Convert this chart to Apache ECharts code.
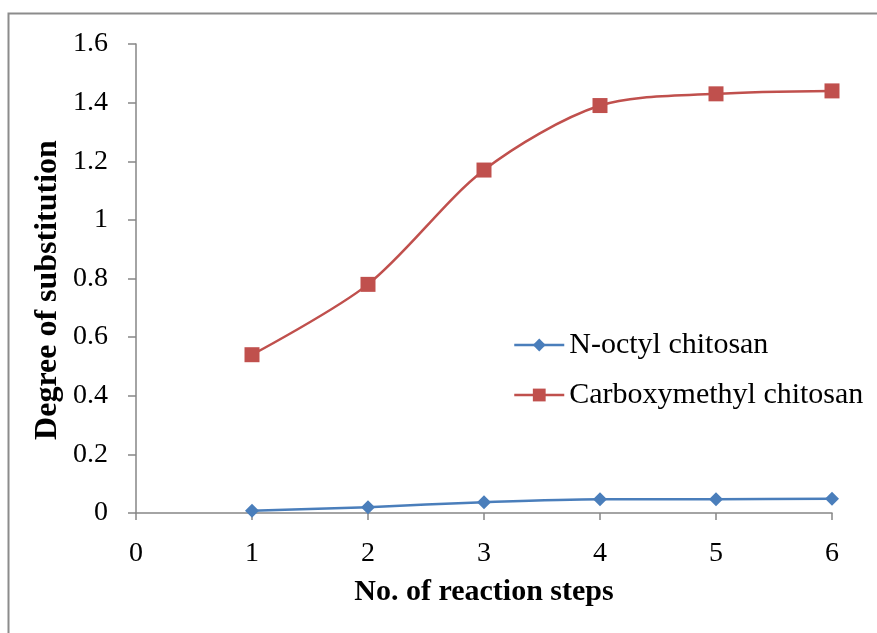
<!DOCTYPE html>
<html>
<head>
<meta charset="utf-8">
<script src="https://cdn.jsdelivr.net/npm/echarts@6/dist/echarts.min.js"></script>
<style>html,body{margin:0;padding:0;background:#fff}#c{width:877px;height:633px}</style>
</head>
<body>
<div id="c"></div>
<script>
const steps = [1, 2, 3, 4, 5, 6];
const nOctyl = [0.008, 0.02, 0.037, 0.047, 0.047, 0.049];
const carboxymethyl = [0.54, 0.78, 1.17, 1.39, 1.43, 1.44];
const seriesNames = ['N-octyl chitosan', 'Carboxymethyl chitosan'];
const xTitle = 'No. of reaction steps';
const yTitle = 'Degree of substitution';

const font = '"Liberation Serif", "Times New Roman", serif';
const chart = echarts.init(document.getElementById('c'));
const axisGray = '#868686';
chart.setOption({
  animation: false,
  backgroundColor: '#fff',
  graphic: [{
    type: 'rect', shape: {x: 8.5, y: 13.5, width: 900, height: 700},
    style: {fill: 'none', stroke: '#8c8c8c', lineWidth: 2}, silent: true, z: -1
  }, {
    type: 'text', x: 48, y: 290, rotation: Math.PI / 2,
    style: {text: yTitle, font: 'bold 32px ' + font, fill: '#000', align: 'center', verticalAlign: 'middle'},
    silent: true
  }],
  grid: {left: 136, right: 45, top: 44, bottom: 120},
  legend: {
    orient: 'vertical', left: 513, top: 330, padding: 0, itemGap: 20, itemWidth: 50, itemHeight: 16,
    textStyle: {fontFamily: font, fontSize: 30, color: '#000'},
    lineStyle: {width: 2.5},
    data: seriesNames
  },
  xAxis: {
    type: 'value', min: 0, max: 6, interval: 1,
    name: xTitle, nameLocation: 'middle', nameGap: 64,
    nameTextStyle: {fontFamily: font, fontSize: 30, fontWeight: 'bold', color: '#000'},
    axisLine: {onZero: false, lineStyle: {color: axisGray, width: 1.5}},
    axisTick: {show: true, length: 7, lineStyle: {color: axisGray, width: 1.5}},
    axisLabel: {fontFamily: font, fontSize: 28, color: '#000', margin: 27},
    splitLine: {show: false}
  },
  yAxis: {
    type: 'value', min: 0, max: 1.6, interval: 0.2,
    axisLine: {show: true, lineStyle: {color: axisGray, width: 1.5}},
    axisTick: {show: true, length: 8, lineStyle: {color: axisGray, width: 1.5}},
    axisLabel: {fontFamily: font, fontSize: 28, color: '#000', margin: 28,
      formatter: v => String(Math.round(v * 10) / 10)},
    splitLine: {show: false}
  },
  series: [
    {
      name: seriesNames[0], type: 'line', smooth: 0.3,
      data: steps.map((s, i) => [s, nOctyl[i]]),
      symbol: 'diamond', symbolSize: 14,
      itemStyle: {color: '#4a7ebb'},
      lineStyle: {color: '#4a7ebb', width: 2.5}
    },
    {
      name: seriesNames[1], type: 'line', smooth: 0.3,
      data: steps.map((s, i) => [s, carboxymethyl[i]]),
      symbol: 'rect', symbolSize: 15,
      itemStyle: {color: '#c0504d'},
      lineStyle: {color: '#c0504d', width: 2.5}
    }
  ]
});
</script>
</body>
</html>
